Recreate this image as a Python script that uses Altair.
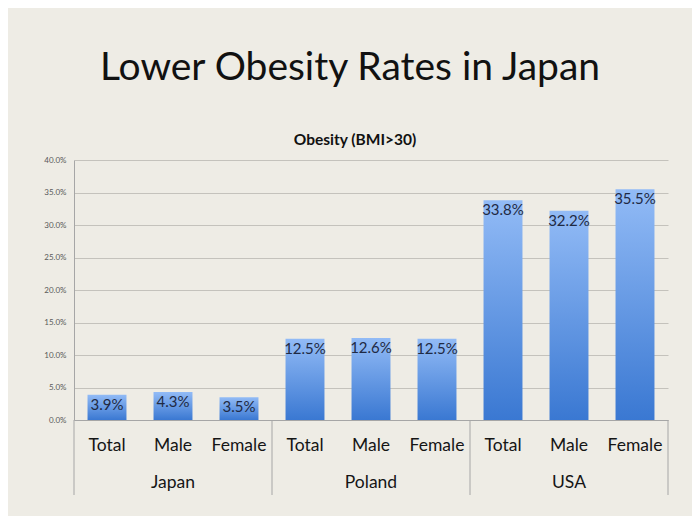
import altair as alt
import pandas as pd

title_text = "Lower Obesity Rates in Japan"
subtitle_text = "Obesity (BMI>30)"
countries = ["Japan", "Japan", "Japan", "Poland", "Poland", "Poland", "USA", "USA", "USA"]
groups = ["Total", "Male", "Female", "Total", "Male", "Female", "Total", "Male", "Female"]
values = [3.9, 4.3, 3.5, 12.5, 12.6, 12.5, 33.8, 32.2, 35.5]
country_names = ["Japan", "Poland", "USA"]
y_ticks = [0, 5, 10, 15, 20, 25, 30, 35, 40]

FONT = "Lato"
BG = "#EEECE5"

df = pd.DataFrame({"country": countries, "group": groups, "value": values})
df["key"] = df["country"] + "|" + df["group"]
df["label"] = df["value"].map(lambda v: f"{v:.1f}%")
order = list(df["key"])

gdf = pd.DataFrame({"country": country_names})
gdf["mid"] = [df[df.country == c]["key"].iloc[1] for c in country_names]
gdf["first"] = [df[df.country == c]["key"].iloc[0] for c in country_names]
last_df = pd.DataFrame({"key": [order[-1]]})

xscale = alt.Scale(domain=order, paddingInner=0, paddingOuter=0)
xaxis = alt.Axis(
    title=None, labelExpr="split(datum.value, '|')[1]", labelFont=FONT,
    labelFontSize=17.5, labelColor="#151515", labelPadding=16, ticks=False,
    domainColor="#A6A6A6", labelAngle=0, grid=False,
)
yaxis = alt.Axis(
    title=None, values=y_ticks,
    labelExpr="format(datum.value, '.1f') + '%'", labelFont=FONT,
    labelFontSize=8, labelColor="#595959", labelPadding=8, ticks=False,
    labelOverlap=False, labelBound=False,
    domainColor="#A6A6A6", gridColor="#C4C2BC", gridOpacity=1,
)
yscale = alt.Scale(domain=[0, 40], nice=False)

gradient = alt.LinearGradient(
    gradient="linear", x1=0, y1=0, x2=0, y2=1,
    stops=[alt.GradientStop(color="#92BBF6", offset=0),
           alt.GradientStop(color="#3A78D2", offset=1)],
)

base = alt.Chart(df)
bars = base.mark_bar(width={"band": 0.59}, color=gradient).encode(
    x=alt.X("key:N", scale=xscale, axis=xaxis, sort=order),
    y=alt.Y("value:Q", scale=yscale, axis=yaxis),
)
labels = base.mark_text(font=FONT, fontSize=15, color="#1F2A44", baseline="top", dy=3).encode(
    x=alt.X("key:N", scale=xscale, sort=order, axis=xaxis),
    y=alt.Y("value:Q", scale=yscale, axis=yaxis),
    text="label:N",
)
glabels = alt.Chart(gdf).mark_text(font=FONT, fontSize=17.5, color="#151515", baseline="middle").encode(
    x=alt.X("mid:N", scale=xscale, sort=order, axis=xaxis),
    y=alt.value(323),
    text="country:N",
)
seps = alt.Chart(gdf).mark_rule(color="#A6A6A6", strokeWidth=1).encode(
    x=alt.X("first:N", scale=xscale, sort=order, bandPosition=0, axis=xaxis),
    y=alt.value(260), y2=alt.value(335),
)
sep_last = alt.Chart(last_df).mark_rule(color="#A6A6A6", strokeWidth=1).encode(
    x=alt.X("key:N", scale=xscale, sort=order, bandPosition=1, axis=xaxis),
    y=alt.value(260), y2=alt.value(335),
)
title = alt.Chart(pd.DataFrame({"t": [title_text]})).mark_text(
    font=FONT, fontSize=39, color="#111111", baseline="middle").encode(
    text="t:N", x=alt.value(276), y=alt.value(-92))
subtitle = alt.Chart(pd.DataFrame({"t": [subtitle_text]})).mark_text(
    font=FONT, fontSize=15.5, fontWeight="bold", color="#111111", baseline="middle").encode(
    text="t:N", x=alt.value(281), y=alt.value(-20))

chart = alt.layer(bars, labels, glabels, seps, sep_last, title, subtitle).properties(
    width=594, height=260, background=BG,
    autosize=alt.AutoSizeParams(type="none"),
    padding={"left": 66, "top": 152, "right": 24, "bottom": 96},
).configure_view(stroke=None)

chart.save("out.html", embed_options={"renderer": "svg", "actions": False})
